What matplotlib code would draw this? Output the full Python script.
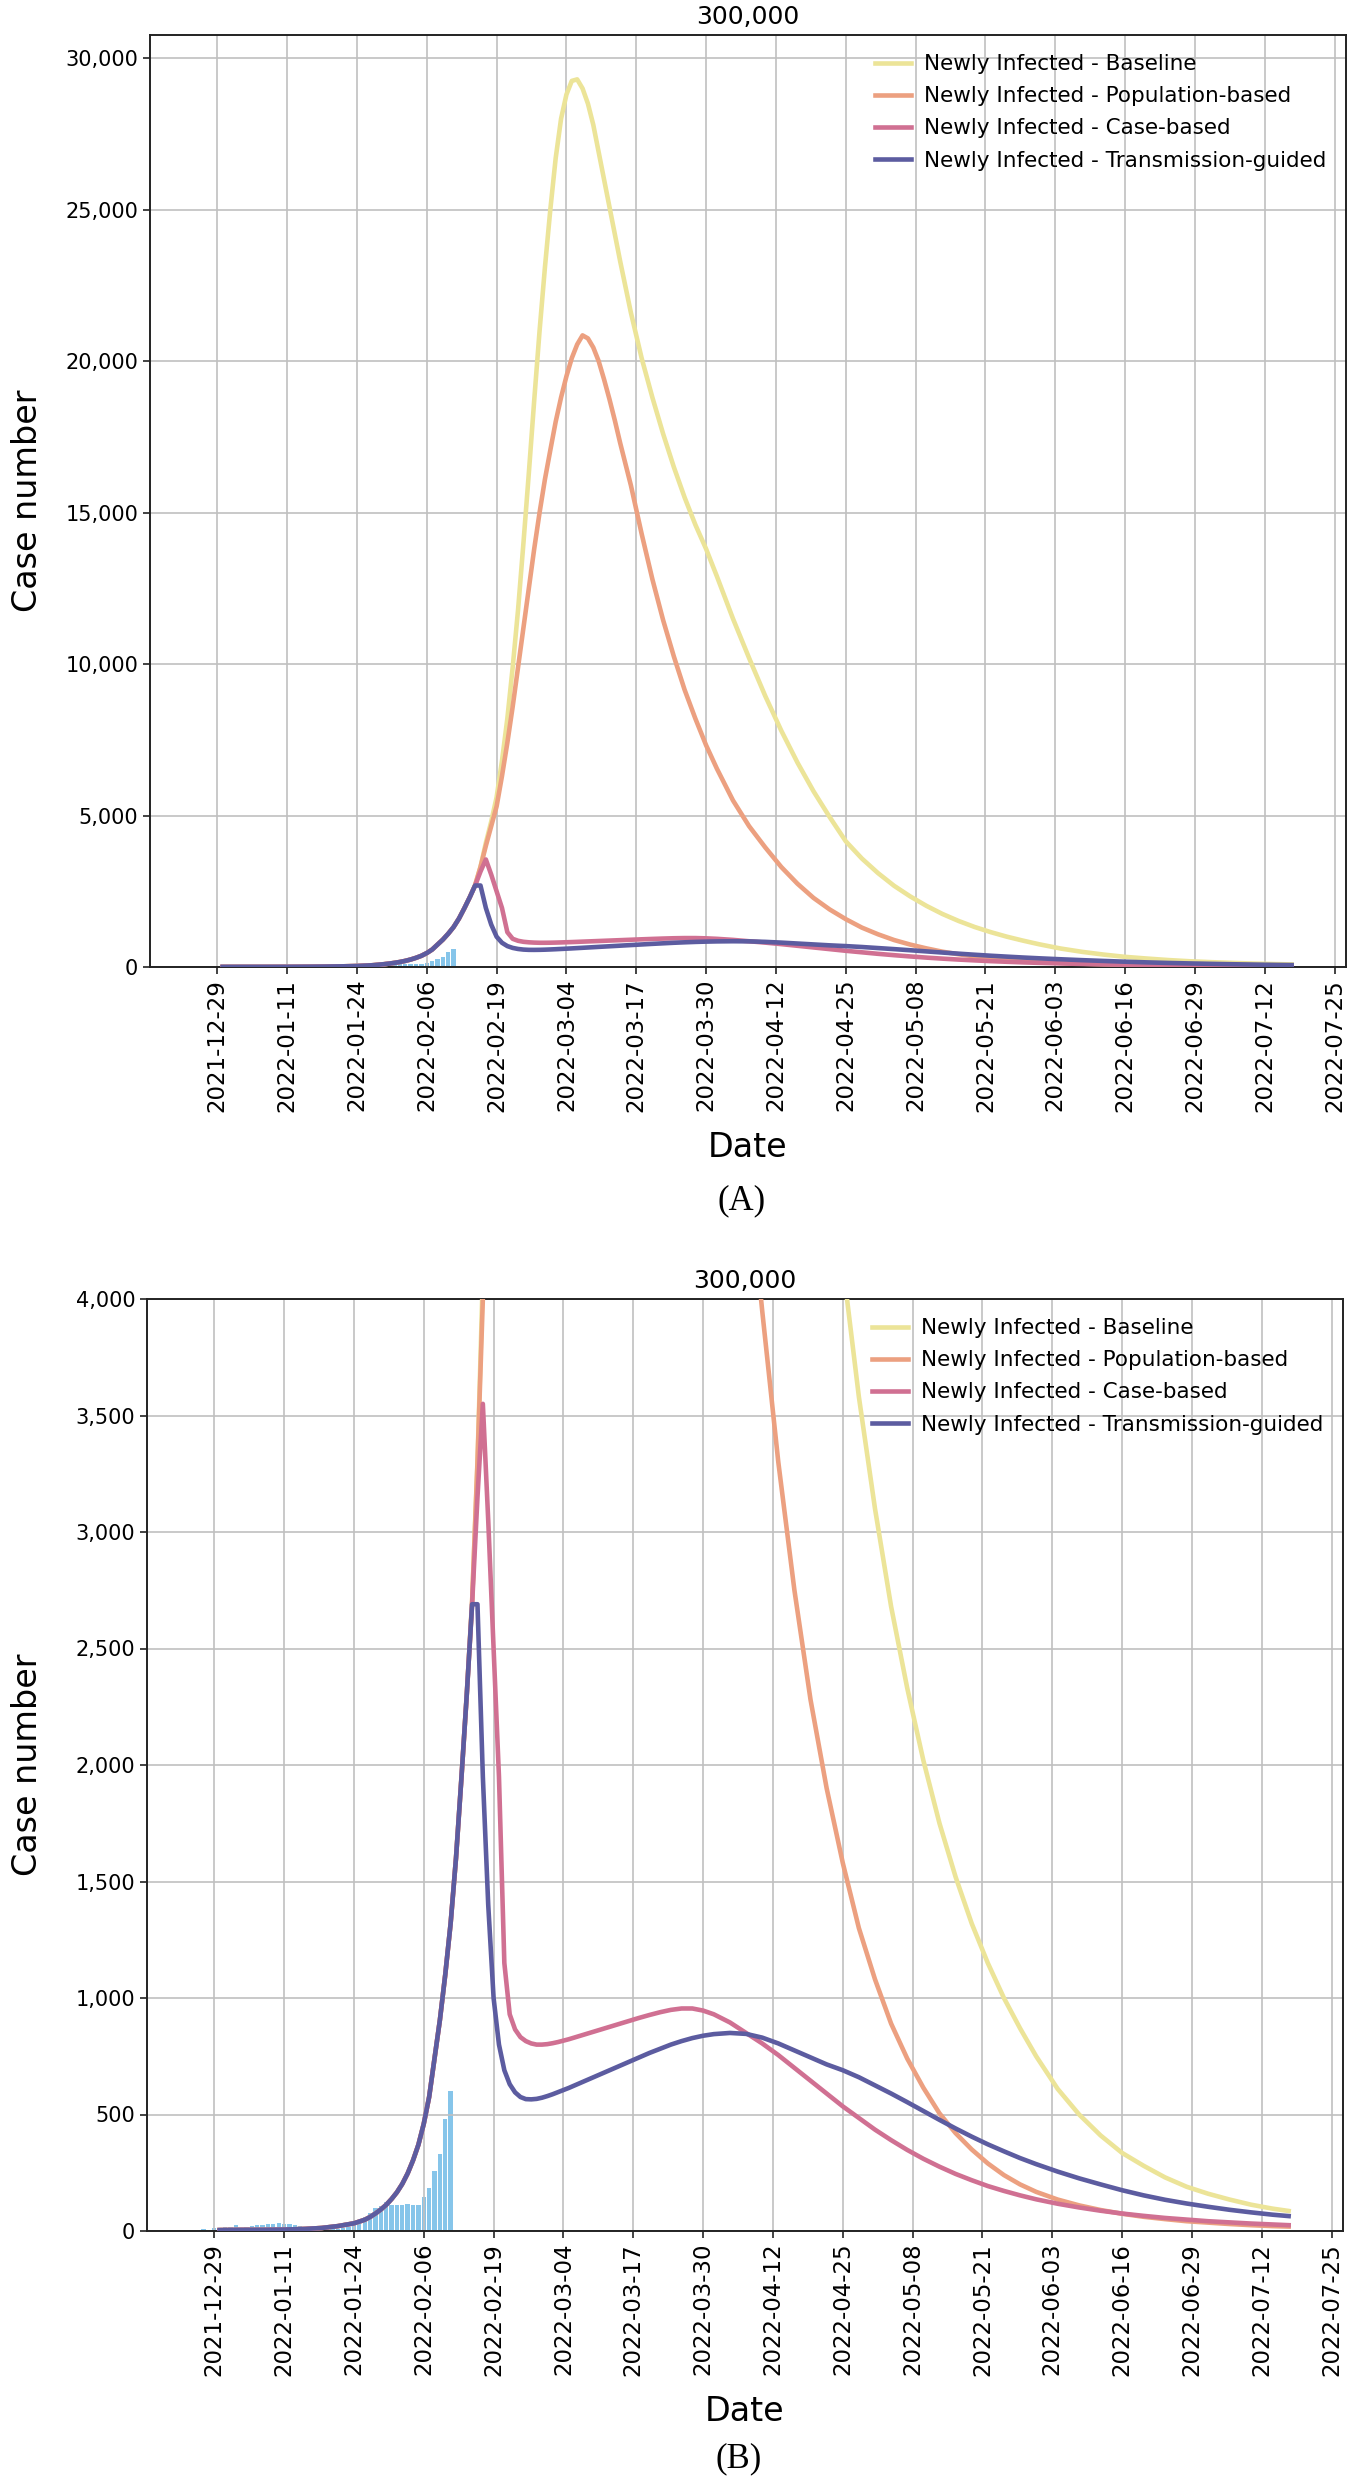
import numpy as np
import pandas as pd
import matplotlib
matplotlib.use("Agg")
import matplotlib.pyplot as plt
from matplotlib.ticker import FuncFormatter, MultipleLocator

# observed daily cases (bars), 2021-12-27 .. 2022-02-11
bar_start = "2021-12-27"
bar_values = [7, 5, 11, 14, 17, 16, 24, 14, 16, 20, 24, 27, 30, 31, 33, 30,
              29, 26, 21, 19, 16, 13, 10, 10, 10, 10, 11, 16, 24, 40, 62, 76,
              97, 109, 123, 112, 112, 112, 115, 112, 113, 148, 183, 259, 330,
              480, 599]

# sample dates for the model curves
early_dates = ["2021-12-30", "2022-01-03", "2022-01-07", "2022-01-11", "2022-01-15",
               "2022-01-18", "2022-01-21", "2022-01-24"]
curve_dates = (list(pd.to_datetime(early_dates))
               + list(pd.date_range("2022-01-26", "2022-03-14", freq="D"))
               + list(pd.date_range("2022-03-16", "2022-04-01", freq="2D"))
               + list(pd.date_range("2022-04-04", "2022-05-31", freq="3D"))
               + list(pd.date_range("2022-06-04", "2022-07-14", freq="4D"))
               + [pd.Timestamp("2022-07-17")])

# common rise of all scenarios up to 2022-02-14
early = [4, 5, 5, 6, 9, 13, 21, 33,
         48, 60, 75, 92, 112, 137, 166, 202, 247, 303, 370, 460, 575, 740,
         905, 1100, 1320, 1600, 1940, 2300]

baseline = early + [
    2700, 3300, 4100, 4800, 5600, 6800, 8200, 9900, 11800, 14000, 16300, 18700, 21000, 23100,
    25000, 26700, 28000, 28800, 29250, 29300, 29000, 28500, 27800, 26900, 26000, 25100, 24200, 23300,
    21600, 20100, 18800, 17600, 16500, 15500, 14600, 13800, 12900,
    11500, 10200, 8950, 7800, 6750, 5800, 4950, 4150, 3580, 3100, 2680, 2330, 2020, 1750,
    1520, 1320, 1150, 1000, 870, 750,
    610, 500, 410, 335, 280, 230, 190, 160, 135, 113, 96,
    86]

population = early + [
    2700, 3300, 4000, 4650, 5300, 6300, 7400, 8600, 9900, 11200, 12500, 13800, 15000, 16100,
    17060, 18000, 18800, 19500, 20100, 20550, 20850, 20750, 20450, 20000, 19400, 18750, 18050, 17300,
    15900, 14300, 12800, 11450, 10250, 9150, 8200, 7320, 6550,
    5500, 4650, 3950, 3300, 2750, 2280, 1900, 1580, 1300, 1080, 890, 740, 615, 505,
    420, 350, 290, 240, 200, 168,
    135, 110, 90, 74, 61, 51, 42, 36, 30, 25, 21,
    19]

case = early + [
    2690, 3150, 3550, 3050, 2500, 1950, 1150, 930, 865, 832, 815, 805, 800, 800,
    802, 806, 811, 817, 823, 830, 837, 844, 851, 858, 865, 872, 879, 886,
    900, 914, 927, 939, 949, 955, 955, 946, 930,
    895, 850, 805, 755, 700, 645, 590, 535, 485, 435, 390, 348, 310, 276,
    245, 218, 193, 172, 153, 136,
    117, 101, 87, 75, 65, 56, 49, 42, 37, 32, 28,
    25]

transmission = early + [
    2690, 2690, 1950, 1400, 1000, 800, 690, 630, 595, 575, 566, 565, 567, 572,
    579, 587, 596, 605, 614, 624, 634, 644, 654, 664, 674, 684, 694, 704,
    724, 744, 764, 782, 800, 815, 828, 838, 845,
    850, 846, 830, 805, 775, 745, 715, 690, 660, 625, 590, 553, 515, 477,
    440, 405, 372, 342, 313, 287,
    255, 226, 200, 175, 153, 134, 118, 104, 91, 80, 70,
    64]

series_labels = ["Newly Infected - Baseline", "Newly Infected - Population-based",
                 "Newly Infected - Case-based", "Newly Infected - Transmission-guided"]
series_colors = ["#ECE498", "#ECA080", "#D07092", "#5C5CA0"]

xtick_dates = pd.date_range("2021-12-29", "2022-07-25", freq="13D")

bar_x = pd.date_range(bar_start, periods=len(bar_values), freq="D")
curve_x = pd.DatetimeIndex(curve_dates)
curves = [baseline, population, case, transmission]

W, H = 1352, 2484
fig = plt.figure(figsize=(W / 100, H / 100), dpi=100)

panels = [
    # left, top, right, bottom in pixels, y limit, y step, panel label y, label
    (150, 35, 1346, 967, None, 5000, 1201, "(A)"),
    (147, 1299, 1343, 2231, 4000, 500, 2459, "(B)"),
]

for left, top, right, bottom, ymax, ystep, label_y, plabel in panels:
    ax = fig.add_axes([left / W, 1 - bottom / H, (right - left) / W, (bottom - top) / H])
    ax.bar(bar_x, bar_values, width=0.8, color="#86C5EA", zorder=1)
    for vals, lab, col in zip(curves, series_labels, series_colors):
        ax.plot(curve_x, vals, color=col, lw=3.3, label=lab, zorder=3)

    ax.set_ylim(bottom=0)
    if ymax is not None:
        ax.set_ylim(0, ymax)
    ax.yaxis.set_major_locator(MultipleLocator(ystep))
    ax.yaxis.set_major_formatter(FuncFormatter(lambda v, p: f"{int(v):,}"))

    ax.set_xticks(xtick_dates)
    ax.set_xticklabels([d.strftime("%Y-%m-%d") for d in xtick_dates], rotation=90)

    ax.grid(True, color="#C0C0C0", lw=1.2)
    for s in ax.spines.values():
        s.set_color("#222222")
        s.set_linewidth(1.4)
    ax.tick_params(axis="both", direction="out", length=5, width=1.2, color="#222222")
    ax.tick_params(axis="y", labelsize=15)
    ax.tick_params(axis="x", labelsize=16.5)

    ax.set_title("300,000", fontsize=18, pad=8)
    ax.set_xlabel("Date", fontsize=24, labelpad=14)
    ax.set_ylabel("Case number", fontsize=24)
    ax.yaxis.set_label_coords((44 - left) / (right - left), 0.5)
    ax.legend(loc="upper right", frameon=False, fontsize=15.5, labelspacing=0.56,
              handlelength=1.7, handletextpad=0.6, borderaxespad=0.5)

    fig.text(((left + right) / 2 - 6) / W, 1 - label_y / H, plabel, ha="center",
             va="center", family="Liberation Serif", fontsize=25)

fig.savefig("out.png", dpi=100)
